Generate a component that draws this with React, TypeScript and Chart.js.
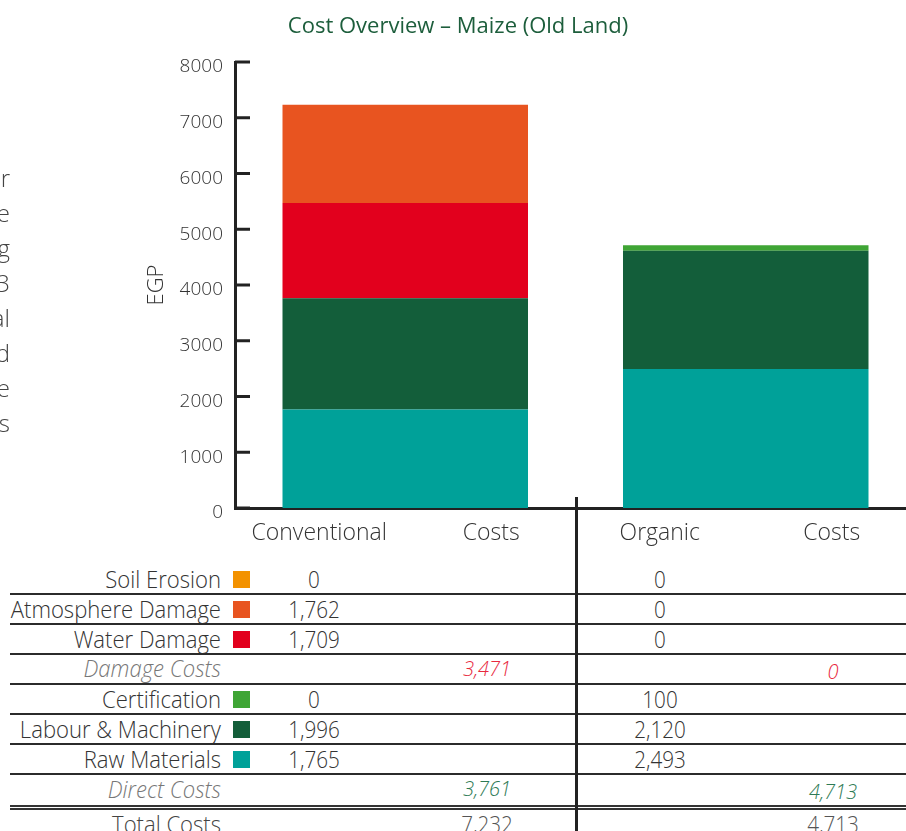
import React, { useEffect, useRef } from 'react';
import { Chart, registerables } from 'chart.js';

Chart.register(...registerables);

// ---------- data ----------
const categories = ['Conventional Costs', 'Organic Costs'];
const soilErosion = [0, 0];
const atmosphereDamage = [1762, 0];
const waterDamage = [1709, 0];
const certification = [0, 100];
const labourMachinery = [1996, 2120];
const rawMaterials = [1765, 2493];
const yTickValues = [0, 1000, 2000, 3000, 4000, 5000, 6000, 7000, 8000];

const COLORS = {
  soil: '#f39200',
  atmosphere: '#e85420',
  water: '#e2001d',
  cert: '#3fa535',
  labour: '#135e3a',
  raw: '#00a199',
};

const fmt = (v: number) => v.toLocaleString('en-US');
const sum = (...arrs: number[][]) => (i: number) => arrs.reduce((s, a) => s + a[i], 0);
const damageTotal = sum(soilErosion, atmosphereDamage, waterDamage);
const directTotal = sum(certification, labourMachinery, rawMaterials);
const grandTotal = (i: number) => damageTotal(i) + directTotal(i);

const FONT = '"Open Sans", sans-serif';

const axisDecor = {
  id: 'axisDecor',
  afterDraw(chart: any) {
    const { ctx, chartArea, scales } = chart;
    const y = scales.y;
    const x = scales.x;
    ctx.save();
    ctx.strokeStyle = '#222';
    ctx.lineWidth = 3;
    y.ticks.forEach((_t: any, i: number) => {
      const py = y.getPixelForTick(i);
      ctx.beginPath();
      ctx.moveTo(chartArea.left, py);
      ctx.lineTo(chartArea.left + 15, py);
      ctx.stroke();
    });
    ctx.font = '300 23px ' + FONT;
    ctx.fillStyle = '#333';
    ctx.textAlign = 'center';
    ctx.textBaseline = 'middle';
    chart.data.labels.forEach((lab: string, i: number) => {
      const cx = x.getPixelForValue(i);
      const parts = String(lab).split(' ');
      ctx.fillText(parts[0], cx - 86, x.top + 25);
      ctx.fillText(parts[1], cx + 86, x.top + 25);
    });
    ctx.restore();
  },
};

function CostChart() {
  const ref = useRef<HTMLCanvasElement | null>(null);
  useEffect(() => {
    if (!ref.current) return;
    const chart = new Chart(ref.current, {
      type: 'bar',
      data: {
        labels: categories,
        datasets: [
          { label: 'Raw Materials', data: rawMaterials, backgroundColor: COLORS.raw },
          { label: 'Labour & Machinery', data: labourMachinery, backgroundColor: COLORS.labour },
          { label: 'Certification', data: certification, backgroundColor: COLORS.cert },
          { label: 'Water Damage', data: waterDamage, backgroundColor: COLORS.water },
          { label: 'Atmosphere Damage', data: atmosphereDamage, backgroundColor: COLORS.atmosphere },
          { label: 'Soil Erosion', data: soilErosion, backgroundColor: COLORS.soil },
        ],
      },
      options: {
        animation: false,
        responsive: false,
        devicePixelRatio: 1,
        layout: { padding: 0 },
        datasets: { bar: { barPercentage: 0.721, categoryPercentage: 1 } },
        plugins: {
          legend: { display: false },
          tooltip: { enabled: false },
          title: {
            display: true,
            text: 'Cost Overview – Maize (Old Land)',
            color: '#1d5e3c',
            font: { family: FONT, size: 22, weight: 'normal' },
            padding: { top: 13.6, bottom: 22 },
          },
        },
        scales: {
          x: {
            stacked: true,
            grid: { display: false },
            border: { display: true, color: '#222', width: 3 },
            ticks: { display: false },
            afterFit: (s: any) => { s.height = 52; },
          },
          y: {
            stacked: true,
            min: yTickValues[0],
            max: yTickValues[yTickValues.length - 1],
            afterBuildTicks: (s: any) => { s.ticks = yTickValues.map((v) => ({ value: v })); },
            grid: { display: false, drawTicks: false },
            border: { display: true, color: '#222', width: 3 },
            ticks: {
              padding: 12,
              labelOffset: 5,
              color: '#333',
              font: { family: FONT, size: 19, weight: 300 as any },
              callback: (v: any) => String(v),
            },
            title: {
              display: true,
              text: 'EGP',
              color: '#333',
              font: { family: FONT, size: 22, weight: 300 as any },
              padding: { top: 144, bottom: 0 },
            },
            afterFit: (s: any) => { s.width = 235; },
          },
        },
      },
      plugins: [axisDecor],
    } as any);
    return () => chart.destroy();
  }, []);
  return <canvas ref={ref} width={916} height={560} style={{ position: 'absolute', left: 0, top: 0, width: 916, height: 560 }} />;
}

const labelStyle: React.CSSProperties = {
  fontFamily: FONT,
  fontWeight: 300,
  fontSize: 22,
  color: '#333',
  whiteSpace: 'nowrap',
};

function Text({ x, y, w, align, style, children }: any) {
  const left = align === 'right' ? x - w : align === 'center' ? x - w / 2 : x;
  return (
    <div style={{ position: 'absolute', left, top: y - 15, width: w, height: 30, lineHeight: '30px', textAlign: align, ...labelStyle, ...style }}>
      {children}
    </div>
  );
}

function HLine({ y }: { y: number }) {
  return <div style={{ position: 'absolute', left: 10, width: 896, top: y - 1, height: 2, background: '#2b2b2b' }} />;
}

export default function App() {
  const colC1 = 314, colS1 = 487, colC2 = 660, colS2 = 833;
  const itemRows = [
    { label: 'Soil Erosion', color: COLORS.soil, data: soilErosion },
    { label: 'Atmosphere Damage', color: COLORS.atmosphere, data: atmosphereDamage },
    { label: 'Water Damage', color: COLORS.water, data: waterDamage },
  ];
  const directRows = [
    { label: 'Certification', color: COLORS.cert, data: certification },
    { label: 'Labour & Machinery', color: COLORS.labour, data: labourMachinery },
    { label: 'Raw Materials', color: COLORS.raw, data: rawMaterials },
  ];
  const rowY = (i: number) => 579 + 30 * i;
  const lineYs = [594, 624, 654, 684, 714, 744, 774];
  const condensed: React.CSSProperties = { fontSize: 24, transform: 'scaleX(0.92)', transformOrigin: 'right center' };
  const condensedC: React.CSSProperties = { fontSize: 24, transform: 'scaleX(0.86)', transformOrigin: 'center center' };
  const renderItem = (r: any, i: number) => (
    <React.Fragment key={r.label}>
      <Text x={221} y={rowY(i)} w={260} align="right" style={condensed}>{r.label}</Text>
      <div style={{ position: 'absolute', left: 233, top: rowY(i) - 8.5, width: 17, height: 17, background: r.color }} />
      <Text x={colC1} y={rowY(i)} w={80} align="center" style={condensedC}>{fmt(r.data[0])}</Text>
      <Text x={colC2} y={rowY(i)} w={80} align="center" style={condensedC}>{fmt(r.data[1])}</Text>
    </React.Fragment>
  );
  const subStyle = (c: string): React.CSSProperties => ({ fontSize: 20, fontStyle: 'italic', color: c });
  return (
    <div style={{ position: 'absolute', left: 0, top: 0, width: 906, height: 831, overflow: 'hidden', background: '#fff' }}>
      <CostChart />
      {/* clipped paragraph fragments on the left */}
      {['r', 'e', 'g', '3', 'al', 'd', 'e', 's'].map((t, i) => (
        <div key={i} style={{ position: 'absolute', right: 896, top: 178 + 35 * i - 17, height: 34, lineHeight: '34px', fontFamily: FONT, fontWeight: 300, fontSize: 24, color: '#444', whiteSpace: 'nowrap' }}>{t}</div>
      ))}
      {itemRows.map((r, i) => renderItem(r, i))}
      <Text x={221} y={rowY(3) - 1} w={260} align="right" style={{ ...condensed, fontStyle: 'italic', color: '#777' }}>Damage Costs</Text>
      <Text x={colS1} y={rowY(3)} w={100} align="center" style={subStyle('#e8293e')}>{fmt(damageTotal(0))}</Text>
      <Text x={colS2} y={rowY(3) + 3} w={100} align="center" style={subStyle('#e8293e')}>{fmt(damageTotal(1))}</Text>
      {directRows.map((r, i) => renderItem(r, i + 4))}
      <Text x={221} y={rowY(7)} w={260} align="right" style={{ ...condensed, fontStyle: 'italic', color: '#777' }}>Direct Costs</Text>
      <Text x={colS1} y={rowY(7)} w={100} align="center" style={subStyle('#2e7a55')}>{fmt(directTotal(0))}</Text>
      <Text x={colS2} y={rowY(7) + 3} w={100} align="center" style={subStyle('#2e7a55')}>{fmt(directTotal(1))}</Text>
      <Text x={221} y={824} w={260} align="right" style={{ ...condensed, color: '#444' }}>Total Costs</Text>
      <Text x={colS1} y={824} w={100} align="center" style={{ ...condensedC, color: '#555' }}>{fmt(grandTotal(0))}</Text>
      <Text x={colS2} y={824} w={100} align="center" style={{ ...condensedC, color: '#555' }}>{fmt(grandTotal(1))}</Text>
      {lineYs.map((y) => <HLine key={y} y={y} />)}
      <div style={{ position: 'absolute', left: 10, width: 896, top: 805, height: 1.5, background: '#333' }} />
      <div style={{ position: 'absolute', left: 10, width: 896, top: 808, height: 1.5, background: '#333' }} />
      <div style={{ position: 'absolute', left: 575, width: 3, top: 497, height: 334, background: '#222' }} />
    </div>
  );
}
